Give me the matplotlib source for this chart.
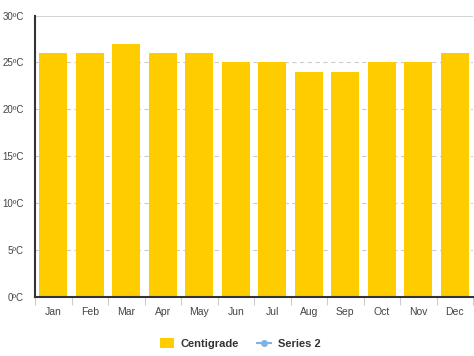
import matplotlib
matplotlib.use('Agg')
import matplotlib.pyplot as plt
import numpy as np

months = ["Jan", "Feb", "Mar", "Apr", "May", "Jun", "Jul", "Aug", "Sep", "Oct", "Nov", "Dec"]
centigrade = [26, 26, 27, 26, 26, 25, 25, 24, 24, 25, 25, 26]
series2 = []
yticks = [0, 5, 10, 15, 20, 25, 30]

plt.rcParams['font.family'] = ['Liberation Sans', 'DejaVu Sans']

fig = plt.figure(figsize=(4.74, 3.56), dpi=100)
ax = fig.add_axes([35 / 474, 59 / 356, 438 / 474, 281.5 / 356])

x = np.arange(len(months))
bars = ax.bar(x, centigrade, width=0.77, color="#FFCC00", label="Centigrade", zorder=2)
line, = ax.plot(series2, series2, color="#7EB3E6", marker="o", markersize=4, lw=1.5, label="Series 2")

ax.set_xlim(-0.5, len(months) - 0.5)
ax.set_ylim(0, 30)
ax.set_yticks(yticks)
ax.set_yticklabels([f"{v}ºC" for v in yticks])
ax.set_xticks(x)
ax.set_xticklabels(months)
ax.set_xticks(np.arange(-0.5, len(months)), minor=True)

ax.tick_params(axis="y", length=0, pad=8, labelsize=7, colors="#444444")
ax.tick_params(axis="x", which="major", length=0, pad=7, labelsize=7.5, colors="#444444")
ax.tick_params(axis="x", which="minor", length=6, width=0.8, color="#cccccc")

for v in yticks[1:-1]:
    ax.axhline(v, color="#cccccc", lw=0.8, ls=(0, (4, 3)), zorder=1)
ax.axhline(30, color="#cccccc", lw=1.2, zorder=1)

for s in ["top", "right"]:
    ax.spines[s].set_visible(False)
ax.spines["left"].set_color("#333333")
ax.spines["left"].set_linewidth(1.5)
ax.spines["bottom"].set_color("#333333")
ax.spines["bottom"].set_linewidth(1.5)

leg = fig.legend([bars, line], ["Centigrade", "Series 2"], loc="center",
                 bbox_to_anchor=(0.507, 0.035), ncol=2, frameon=False,
                 fontsize=8, handlelength=1.3, handleheight=1.0, columnspacing=1.6,
                 handletextpad=0.6)
for t in leg.get_texts():
    t.set_fontweight("bold")
    t.set_color("#333333")

fig.savefig("out.png", dpi=100)
